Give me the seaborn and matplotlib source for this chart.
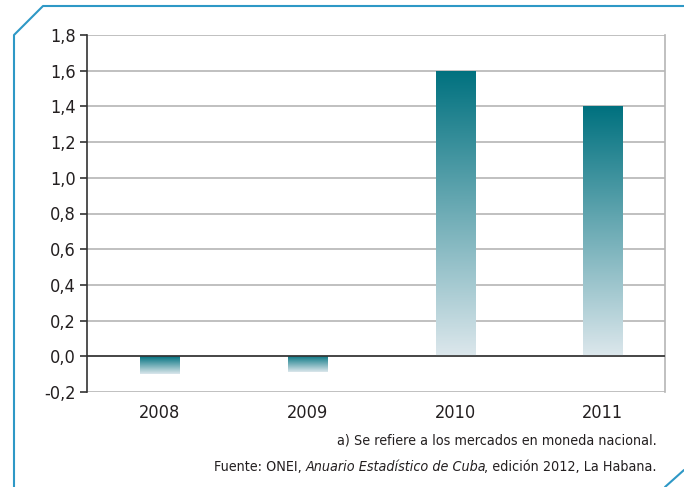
import numpy as np
import pandas as pd
import matplotlib
matplotlib.use('Agg')
import matplotlib.pyplot as plt
import seaborn as sns
from matplotlib.colors import LinearSegmentedColormap
from matplotlib.lines import Line2D

# data
years = ['2008', '2009', '2010', '2011']
values = [-0.10, -0.09, 1.60, 1.40]
yticks = [-0.2, 0.0, 0.2, 0.4, 0.6, 0.8, 1.0, 1.2, 1.4, 1.6, 1.8]
note = 'a) Se refiere a los mercados en moneda nacional.'
src_parts = [('Fuente: ONEI,', 'normal'), ('Anuario Estadístico de Cuba', 'italic'),
             (', edición 2012, La Habana.', 'normal')]

df = pd.DataFrame({'year': years, 'value': values})

sns.set_style('white')
plt.rcParams['font.family'] = ['Liberation Sans Narrow', 'DejaVu Sans']
plt.rcParams['font.stretch'] = 'condensed'

fig = plt.figure(figsize=(6.84, 4.87), dpi=100)
ax = fig.add_axes([87/684, 1 - 392/487, (665-87)/684, (392-35)/487])

sns.barplot(data=df, x='year', y='value', color='#00717F', width=0.265, ax=ax, zorder=3)

dark = '#00717F'
light = '#DCE7EC'
cmap = LinearSegmentedColormap.from_list('tealgrad', [light, dark])
grad = np.linspace(0, 1, 256).reshape(-1, 1)
for p in ax.patches:
    x0, y0 = p.get_x(), p.get_y()
    w, h = p.get_width(), p.get_height()
    p.set_facecolor('none')
    p.set_edgecolor('none')
    # light far from zero, dark at the top of positive bars / at zero for negatives
    ext = [x0, x0 + w, min(y0, y0 + h), max(y0, y0 + h)]
    im = ax.imshow(grad, cmap=cmap, aspect='auto', extent=ext, origin='lower', zorder=3)
    im.set_clip_path(p)

ax.set_xlim(-0.49, 3.42)
ax.set_ylim(-0.2, 1.8)
ax.set_yticks(yticks)
ax.set_yticklabels([f'{t:.1f}'.replace('.', ',') for t in yticks])
ax.set_xlabel('')
ax.set_ylabel('')

for t in yticks:
    ax.axhline(t, color='#B5B5B5', lw=1.2, zorder=1)
ax.axhline(0, color='#333333', lw=1.2, zorder=4)

for s in ['top', 'bottom']:
    ax.spines[s].set_visible(False)
ax.spines['right'].set_color('#B5B5B5')
ax.spines['right'].set_linewidth(1.2)
ax.spines['left'].set_color('#333333')
ax.spines['left'].set_linewidth(1.2)
ax.tick_params(axis='y', left=True, length=5, width=1.2, color='#333333',
               labelsize=13, labelcolor='#231F20', pad=3)
ax.tick_params(axis='x', bottom=False, labelsize=13, labelcolor='#231F20', pad=5)

# frame with cut corners
fc = '#2E98C6'
fig.add_artist(Line2D([14/684, 14/684, 43/684, 1.0],
                      [0, 1 - 35/487, 1 - 6/487, 1 - 6/487],
                      transform=fig.transFigure, color=fc, lw=1.5))
fig.add_artist(Line2D([665/684, 684/684], [0, 17/487],
                      transform=fig.transFigure, color=fc, lw=1.5))

# footnotes (second line built right to left, italic title in the middle)
fs = 10.3
fig.text(657/684, 1 - 441/487, note, ha='right', va='center', fontsize=fs, color='#231F20')
fig.canvas.draw()
r = fig.canvas.get_renderer()
xr = 657
shift = {'Anuario Estadístico de Cuba': 1.5, 'Fuente: ONEI,': -3.5}
for txt, style in reversed(src_parts):
    xr += shift.get(txt, 0)
    t = fig.text(xr/684, 1 - 467/487, txt, ha='right', va='center', fontsize=fs,
                 color='#231F20', style=style)
    bb = t.get_window_extent(renderer=r)
    xr -= bb.width

fig.savefig('out.png', dpi=100)
